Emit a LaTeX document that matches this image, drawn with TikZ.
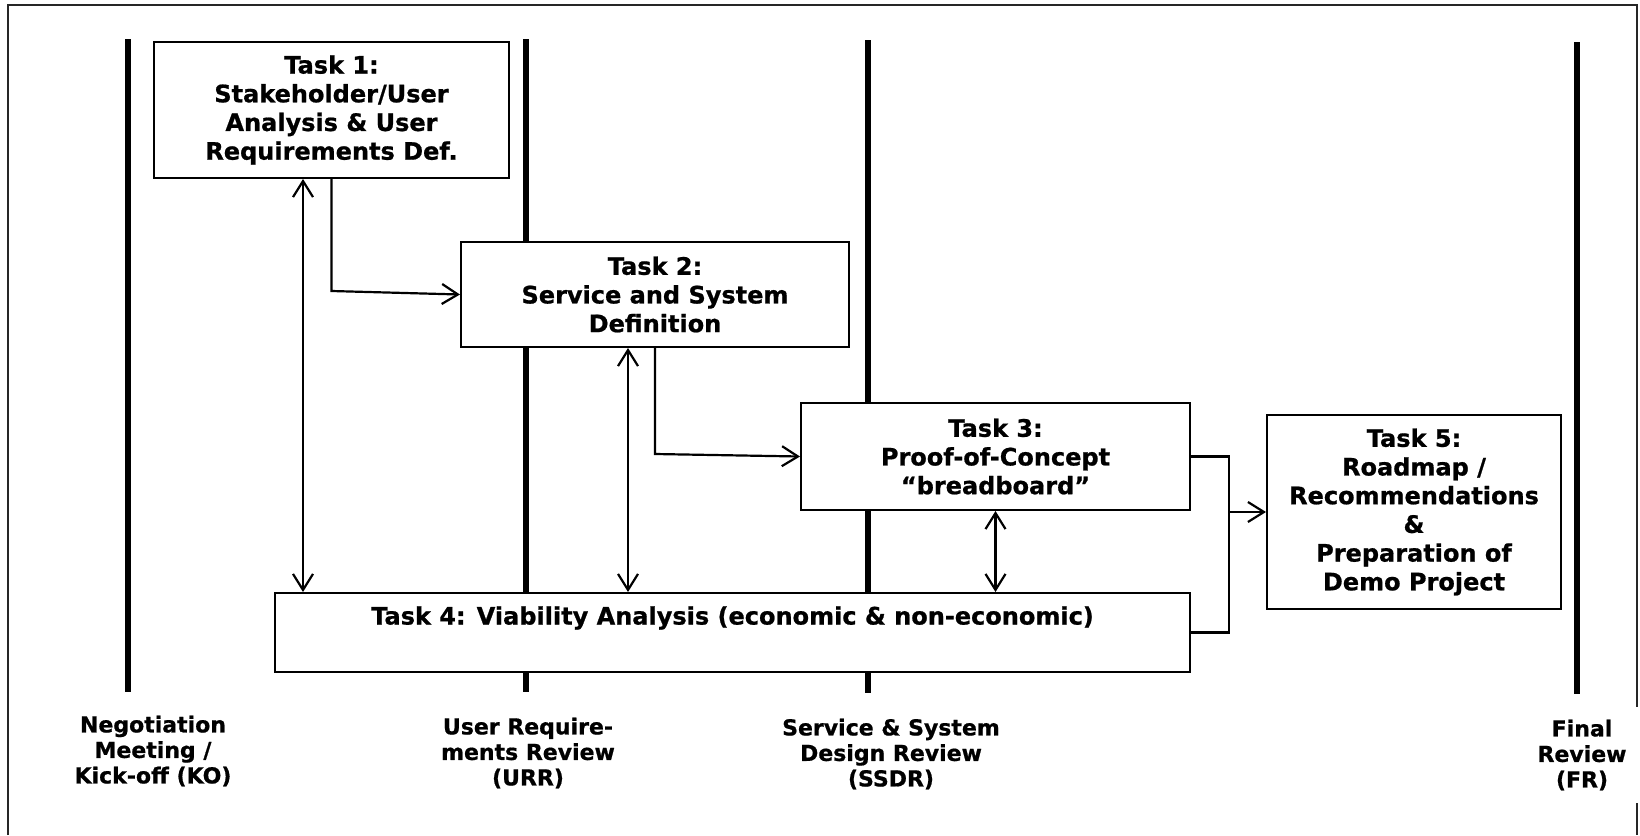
\documentclass[tikz,border=0pt]{standalone}
\usepackage{fontspec}
\setmainfont{DejaVu Sans}[BoldFeatures={FakeBold=0.8}]
\usetikzlibrary{arrows.meta,calc}
\begin{document}
\begin{tikzpicture}[x=1pt,y=-1pt,
  taskbox/.style={draw=black,line width=2pt,fill=white,align=center,inner sep=0pt,
    font=\fontsize{24}{28.7}\selectfont\bfseries},
  milestone/.style={line width=5.5pt,black},
  conn/.style={line width=2.2pt,black},
  mlabel/.style={align=center,inner sep=0pt,font=\fontsize{22}{25.5}\selectfont\bfseries},
  frameline/.style={line width=2pt,black!85},
  >={Straight Barb[length=16pt,width=20pt,line width=2.2pt]}]
\useasboundingbox (0,0) rectangle (1640,835);
% frame
\draw[frameline] (8,835) -- (8,5) -- (1637,5) -- (1637,707);
\draw[frameline] (1637,803) -- (1637,835);
% milestone lines
\draw[milestone] (128,39) -- (128,692);
\draw[milestone] (526,39) -- (526,692);
\draw[milestone] (868,40) -- (868,693);
\draw[milestone] (1577,42) -- (1577,694);
% boxes
\node[taskbox,minimum width=355,minimum height=136] (t1) at (331.5,110)
  {Task 1:\\Stakeholder/User\\Analysis \& User\\Requirements Def.};
\node[taskbox,minimum width=388,minimum height=105] (t2) at (655,294.5)
  {Task 2:\\Service and System\\Definition};
\node[taskbox,minimum width=389,minimum height=107] (t3) at (995.5,456.5)
  {Task 3:\\Proof-of-Concept\\“breadboard”};
\node[taskbox,minimum width=915,minimum height=79] (t4) at (732.5,632.5) {};
\node[align=center,inner sep=0pt,font=\fontsize{24}{29}\selectfont\bfseries] (t4text) at (732.5,618)
  {Task 4: Viability Analysis (economic \& non-economic)};
\node[taskbox,minimum width=294,minimum height=194] (t5) at (1414,512)
  {Task 5:\\Roadmap /\\Recommendations\\\&\\Preparation of\\Demo Project};
% milestone labels
\node[mlabel] (ko) at (153,751) {Negotiation\\Meeting /\\Kick-off (KO)};
\node[mlabel] (urr) at (528,753) {User Require-\\ments Review\\(URR)};
\node[mlabel] (ssdr) at (891,754) {Service \& System\\Design Review\\(SSDR)};
\node[mlabel] (fr) at (1582,755) {Final\\Review\\(FR)};
% connectors
\draw[conn,->] (t1.south) -- ++(0,112) -- (t2.west);
\draw[conn,->] (t2.south) -- ++(0,106) -- (t3.west);
\path (t1.south west) ++(150,0) coordinate (a1);
\draw[conn,<->] (a1) -- (a1 |- t4.north);
\path (t2.south west) ++(168,0) coordinate (b1);
\draw[conn,<->] (b1) -- (b1 |- t4.north);
\draw[conn,<->] (t3.south) -- (t3.south |- t4.north);
\draw[conn] (t3.east) -- ++(38,0) coordinate (j1) |- (t4.east);
\draw[conn,->] (t5.west -| j1) -- (t5.west);
\end{tikzpicture}
\end{document}
